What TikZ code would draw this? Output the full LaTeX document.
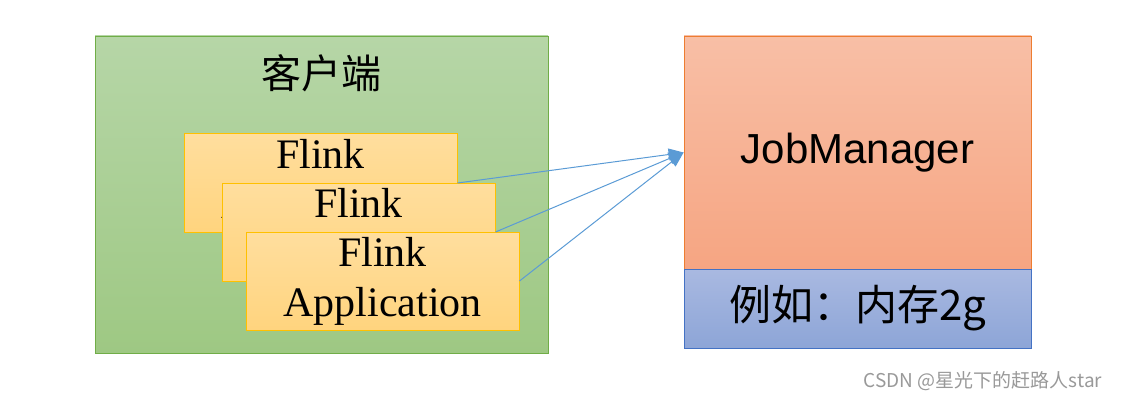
\documentclass[tikz,border=0pt]{standalone}
\usepackage{fontspec}
\setmainfont{Liberation Serif}
\setsansfont{Liberation Sans}
\newfontfamily\cjk{Noto Sans CJK SC}
\usetikzlibrary{arrows.meta, positioning}
\definecolor{clientgreen}{HTML}{70AD47}
\definecolor{clienttop}{HTML}{B6D6A7}
\definecolor{clientbot}{HTML}{9EC883}
\definecolor{appedge}{HTML}{FFC000}
\definecolor{apptop}{HTML}{FFDE9E}
\definecolor{appbot}{HTML}{FFD47E}
\definecolor{jmedge}{HTML}{ED7D31}
\definecolor{jmtop}{HTML}{F8BFA6}
\definecolor{jmbot}{HTML}{F6A582}
\definecolor{memedge}{HTML}{4472C4}
\definecolor{memtop}{HTML}{A9B9E1}
\definecolor{membot}{HTML}{8DA5D7}
\definecolor{linkblue}{HTML}{5B9BD5}
\tikzset{
  arr/.style={-{Triangle[length=15pt, width=12pt]}, line width=1pt, linkblue},
  clientbox/.style={rectangle, draw=clientgreen, line width=0.8pt, top color=clienttop, bottom color=clientbot, minimum width=453pt, minimum height=317pt},
  appbox/.style={rectangle, draw=appedge, line width=1pt, top color=apptop, bottom color=appbot, minimum width=273pt, minimum height=98pt, align=center, font=\fontsize{42}{50}\selectfont, inner sep=0pt},
  jmbox/.style={rectangle, draw=jmedge, line width=0.8pt, top color=jmtop, bottom color=jmbot, minimum width=347pt, minimum height=233pt, font=\sffamily\fontsize{42}{50}\selectfont},
  membox/.style={rectangle, draw=memedge, line width=0.8pt, top color=memtop, bottom color=membot, minimum width=347pt, minimum height=79pt, font=\cjk\fontsize{42}{50}\selectfont},
}
\begin{document}
\begin{tikzpicture}[x=1pt, y=-1pt]
  \useasboundingbox (0,0) rectangle (1121,401);

  % Client side
  \node[clientbox] (C) at (321.5,194.5) {};
  \node[font=\cjk\fontsize{40}{48}\selectfont] (Ct) at (321,73) {客户端};
  \node[appbox] (A1) at (320.5,183) {Flink\\Application};
  \node[appbox] (A2) at (358.5,232) {Flink\\Application};
  \node[appbox] (A3) at (382.5,281) {Flink\\Application};

  % JobManager side
  \node[jmbox] (JM) at (857.5,152.5) {JobManager};
  \node[membox] (M) at (857.5,308.5) {例如：内存2g};

  \foreach \src in {A1,A2,A3} {
    \draw[arr] (\src.east) -- (JM.west);
  }

  \node[font=\cjk\fontsize{19}{22}\selectfont, text=black!40] (W) at (983,381) {CSDN @星光下的赶路人star};
\end{tikzpicture}
\end{document}
